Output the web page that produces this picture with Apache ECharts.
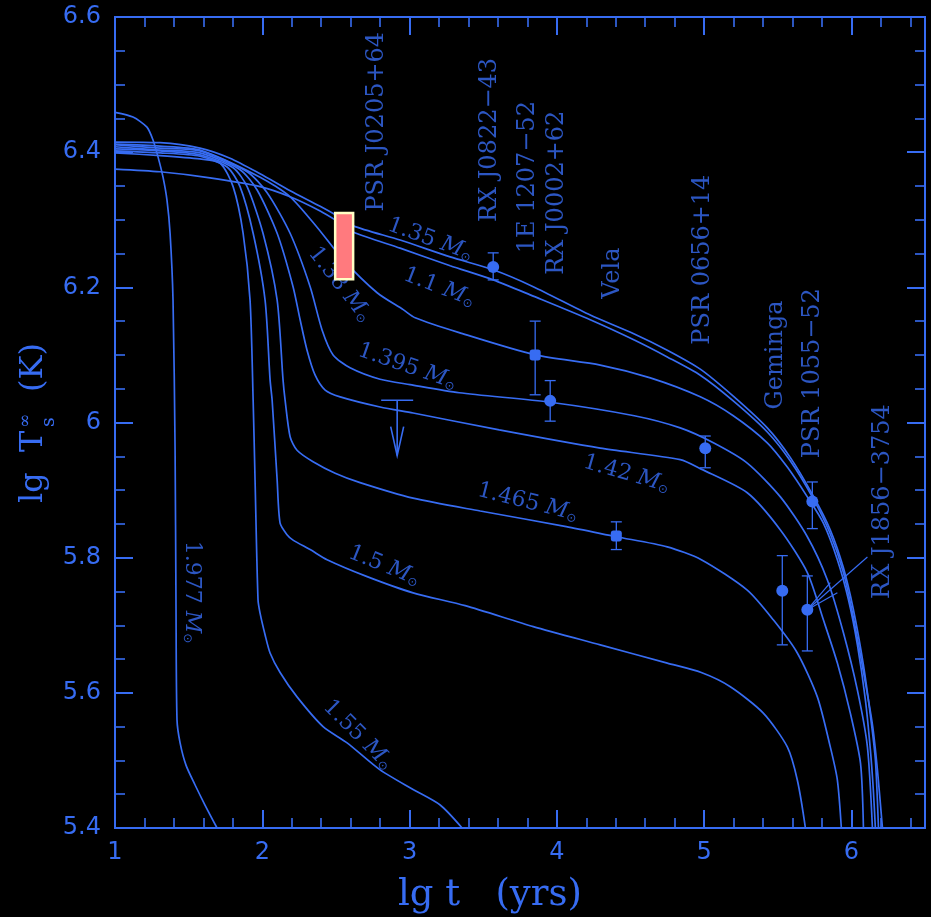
<!DOCTYPE html>
<html><head><meta charset="utf-8">
<script src="https://cdn.jsdelivr.net/npm/echarts@6/dist/echarts.min.js"></script>
<style>html,body{margin:0;padding:0;background:#000;}#c{width:931px;height:917px;}</style>
</head><body><div id="c"></div>
<script>
const BLUE = '#376cf2';

// ---- cooling curves: lg t (yrs) and lg Ts (K) ----
const lgt_1p1  = [1.0,1.306,1.645,1.985,2.189,2.393,2.508,2.617,2.936,3.276,3.568,3.840,4.227,4.526,4.750,4.974,5.198,5.429,5.586,5.742,5.857,5.946,6.014,6.082,6.143,6.177,6.211];
const T_1p1    = [6.375,6.371,6.362,6.349,6.334,6.313,6.298,6.282,6.258,6.232,6.211,6.187,6.152,6.122,6.097,6.070,6.032,5.986,5.943,5.887,5.835,5.778,5.711,5.631,5.553,5.486,5.400];

const lgt_1p35 = [1.0,1.306,1.577,1.781,1.985,2.189,2.393,2.508,2.617,2.936,3.276,3.568,3.840,4.227,4.526,4.750,4.974,5.198,5.429,5.586,5.742,5.857,5.946,6.014,6.082,6.129,6.163,6.184];
const T_1p35   = [6.415,6.414,6.406,6.391,6.368,6.343,6.320,6.306,6.291,6.270,6.245,6.226,6.201,6.159,6.131,6.107,6.079,6.039,5.992,5.948,5.891,5.841,5.785,5.723,5.641,5.567,5.501,5.400];

const lgt_1p38 = [1.0,1.306,1.577,1.985,2.189,2.372,2.549,2.780,2.957,3.038,3.337,3.853,4.295,4.635,4.974,5.198,5.429,5.565,5.701,5.810,5.905,5.980,6.041,6.095,6.129,6.149,6.163];
const T_1p38   = [6.412,6.409,6.403,6.363,6.334,6.289,6.241,6.192,6.167,6.155,6.133,6.100,6.085,6.066,6.038,6.010,5.970,5.934,5.890,5.851,5.797,5.738,5.671,5.590,5.516,5.457,5.400];

const lgt_1p395 = [1.0,1.306,1.577,1.897,2.033,2.189,2.325,2.406,2.481,2.596,2.800,3.004,3.337,3.955,4.526,4.838,5.063,5.293,5.518,5.701,5.837,5.946,6.041,6.109,6.143];
const T_1p395   = [6.411,6.406,6.402,6.371,6.340,6.280,6.201,6.137,6.100,6.081,6.064,6.056,6.044,6.030,6.010,5.992,5.970,5.940,5.890,5.831,5.767,5.689,5.604,5.520,5.400];

const lgt_1p42 = [1.0,1.306,1.577,1.849,1.965,2.101,2.209,2.257,2.304,2.359,2.427,2.529,2.800,3.024,3.609,4.295,4.838,4.981,5.293,5.518,5.701,5.810,5.905,5.993,6.062,6.082];
const T_1p42   = [6.408,6.403,6.399,6.374,6.344,6.280,6.201,6.152,6.107,6.070,6.048,6.038,6.023,6.014,5.989,5.962,5.945,5.931,5.896,5.841,5.778,5.708,5.644,5.570,5.496,5.400];

const lgt_1p465 = [1.0,1.306,1.577,1.802,1.897,2.005,2.101,2.141,2.155,2.189,2.236,2.345,2.495,2.664,3.024,3.480,4.064,4.404,4.750,4.981,5.293,5.470,5.633,5.769,5.857,5.905,5.932];
const T_1p465   = [6.405,6.402,6.396,6.377,6.349,6.280,6.181,6.063,6.033,5.979,5.959,5.942,5.925,5.911,5.888,5.869,5.846,5.831,5.816,5.797,5.752,5.708,5.659,5.594,5.520,5.471,5.400];

const lgt_1p5 = [1.0,1.306,1.577,1.761,1.849,1.938,2.019,2.053,2.067,2.101,2.121,2.168,2.209,2.325,2.440,2.712,3.024,3.378,3.840,4.295,4.750,4.981,5.178,5.402,5.565,5.633,5.688];
const T_1p5   = [6.402,6.399,6.394,6.378,6.349,6.280,6.181,6.063,6.033,5.915,5.851,5.834,5.826,5.812,5.797,5.772,5.748,5.729,5.698,5.671,5.644,5.630,5.609,5.570,5.520,5.471,5.400];

const lgt_1p55 = [1.0,1.306,1.577,1.713,1.802,1.870,1.917,1.938,1.951,1.971,1.985,2.019,2.053,2.121,2.236,2.413,2.576,2.800,3.024,3.208,3.357];
const T_1p55   = [6.399,6.395,6.390,6.384,6.349,6.280,6.181,6.033,5.915,5.738,5.718,5.686,5.659,5.630,5.594,5.550,5.526,5.486,5.457,5.434,5.400];

const lgt_1p977 = [1.0,1.122,1.217,1.258,1.292,1.326,1.353,1.374,1.394,1.408,1.414,1.421,1.442,1.482,1.543,1.611,1.693];
const T_1p977   = [6.459,6.452,6.437,6.418,6.393,6.363,6.329,6.280,6.181,5.959,5.738,5.560,5.526,5.493,5.464,5.434,5.400];

// ---- curve labels (mass, anchor lg t, anchor lg T, angle) ----
const massText  = ['1.35','1.1','1.38','1.395','1.42','1.465','1.5','1.55','1.977'];
const massX     = [3.147,3.208,2.542,2.990,4.478,3.806,2.834,2.664,1.543];
const massY     = [6.275,6.204,6.207,6.087,5.928,5.886,5.792,5.541,5.749];
const massAngle = [-20,-21,-52,-19,-16,-14,-22,-45,-90];

// ---- observed sources: labels ----
const srcText = ['PSR J0205+64','RX J0822\u221243','1E 1207\u221252','RX J0002+62','Vela','PSR 0656+14','Geminga','PSR 1055\u221252','RX J1856\u22123754'];
const srcX    = [2.780,3.548,3.806,4.003,4.383,4.988,5.490,5.735,6.211];
const srcY    = [6.445,6.418,6.363,6.340,6.221,6.241,6.100,6.073,5.883];

// ---- observed sources: data points with error bars ----
const ptX     = [3.568,3.853,3.955,5.008,4.404,5.531,5.735,5.701];
const ptY     = [6.230,6.100,6.032,5.962,5.832,5.751,5.883,5.723];
const ptLo    = [6.211,6.041,6.002,5.933,5.812,5.671,5.843,5.662];
const ptHi    = [6.251,6.150,6.062,5.980,5.853,5.803,5.912,5.773];
const ptShape = ['circle','roundRect','circle','circle','roundRect','circle','circle','circle'];

// ---- Vela upper limit (lg t, bar value, arrow tip) ----
const limX = [2.916], limTop = [6.033], limTip = [5.951];

// ---- PSR J0205+64 box (lg t from, lg t to, lg T from, lg T to) ----
const boxT0 = [2.495], boxT1 = [2.617], boxY0 = [6.212], boxY1 = [6.310];

// ---- RX J1856-3754 pointer lines (end points) ----
const ptrX = [6.109,5.857,5.905];
const ptrY = [5.801,5.763,5.748];

const xTicksMajor = [1,2,3,4,5,6];
const yTicks = [5.4,5.6,5.8,6.0,6.2,6.4,6.6];

function zip(a,b){ return a.map((v,i)=>[v,b[i]]); }

const curves = [
  ['1.1', lgt_1p1, T_1p1], ['1.35', lgt_1p35, T_1p35], ['1.38', lgt_1p38, T_1p38],
  ['1.395', lgt_1p395, T_1p395], ['1.42', lgt_1p42, T_1p42], ['1.465', lgt_1p465, T_1p465],
  ['1.5', lgt_1p5, T_1p5], ['1.55', lgt_1p55, T_1p55], ['1.977', lgt_1p977, T_1p977]
];

const lineStyleAx = {color: BLUE, width: 2};
function xAx(pos, major, showLabel){
  return {
    type:'value', position:pos, min:1, max:6.5, interval: major ? 1 : 0.2,
    axisLine:{show:true, onZero:false, lineStyle:lineStyleAx},
    axisTick:{show:true, inside:true, length: major ? 18 : 10, lineStyle:{color:BLUE, width: major?2:1.6}},
    axisLabel:{show:showLabel, showMaxLabel:false, margin:13, color:BLUE,
      fontFamily:'DejaVu Sans', fontSize:24,
      formatter: v => xTicksMajor.indexOf(Math.round(v*10)/10) >= 0 ? String(Math.round(v)) : ''},
    splitLine:{show:false}
  };
}
function yAx(pos, showLabel){
  return {
    type:'value', position:pos, min:5.4, max:6.6, interval:0.2,
    axisLine:{show:true, onZero:false, lineStyle:lineStyleAx},
    axisTick:{show:true, inside:true, length:18, lineStyle:{color:BLUE, width:2}},
    minorTick:{show:true, splitNumber:4, length:10, lineStyle:{color:BLUE, width:1.6}},
    axisLabel:{show:showLabel, margin:14, color:BLUE, fontFamily:'DejaVu Sans', fontSize:24,
      formatter: v => String(Math.round(v*10)/10)},
    splitLine:{show:false}, minorSplitLine:{show:false}
  };
}

const series = [];
curves.forEach(c => {
  series.push({
    name: c[0] + ' M\u2299', type:'line', xAxisIndex:0, yAxisIndex:0,
    data: zip(c[1], c[2]), showSymbol:false, symbol:'none', smooth:0.25,
    lineStyle:{color:BLUE, width:1.7}, silent:true, z:2
  });
});

// pointer lines for RX J1856
series.push({
  type:'custom', xAxisIndex:0, yAxisIndex:0, silent:true, z:3,
  data: ptrX.map((x,i)=>[ptX[7], ptY[7], x, ptrY[i]]),
  renderItem(params, api){
    const a = api.coord([api.value(0), api.value(1)]);
    const b = api.coord([api.value(2), api.value(3)]);
    return {type:'line', shape:{x1:a[0],y1:a[1],x2:b[0],y2:b[1]}, style:{stroke:BLUE, lineWidth:1.2}};
  }
});

// error bars
series.push({
  type:'custom', xAxisIndex:0, yAxisIndex:0, silent:true, z:3,
  data: ptX.map((x,i)=>[x, ptLo[i], ptHi[i]]),
  renderItem(params, api){
    const top = api.coord([api.value(0), api.value(2)]);
    const bot = api.coord([api.value(0), api.value(1)]);
    const w = 5.5, st = {stroke:BLUE, lineWidth:1.3};
    return {type:'group', children:[
      {type:'line', shape:{x1:top[0],y1:top[1],x2:bot[0],y2:bot[1]}, style:st},
      {type:'line', shape:{x1:top[0]-w,y1:top[1],x2:top[0]+w,y2:top[1]}, style:st},
      {type:'line', shape:{x1:bot[0]-w,y1:bot[1],x2:bot[0]+w,y2:bot[1]}, style:st}
    ]};
  }
});

// data points
series.push({
  type:'scatter', xAxisIndex:0, yAxisIndex:0, silent:true, z:4,
  data: ptX.map((x,i)=>({value:[x, ptY[i]], symbol:ptShape[i], symbolSize: ptShape[i]==='circle'?12:11})),
  itemStyle:{color:BLUE, opacity:1}
});

// upper limit arrow
series.push({
  type:'custom', xAxisIndex:0, yAxisIndex:0, silent:true, z:3,
  data: limX.map((x,i)=>[x, limTop[i], limTip[i]]),
  renderItem(params, api){
    const t = api.coord([api.value(0), api.value(1)]);
    const b = api.coord([api.value(0), api.value(2)]);
    const st = {stroke:BLUE, lineWidth:1.6, fill:null};
    return {type:'group', children:[
      {type:'line', shape:{x1:t[0]-16,y1:t[1],x2:t[0]+16,y2:t[1]}, style:st},
      {type:'line', shape:{x1:t[0],y1:t[1],x2:b[0],y2:b[1]}, style:st},
      {type:'polyline', shape:{points:[[b[0]-6.5,b[1]-29],[b[0],b[1]],[b[0]+6.5,b[1]-29]]}, style:st}
    ]};
  }
});

// mass labels
series.push({
  type:'scatter', xAxisIndex:0, yAxisIndex:0, silent:true, z:5, symbolSize:0,
  data: massX.map((x,i)=>({value:[x, massY[i]], label:{rotate:massAngle[i]}})),
  label:{show:true, position:'inside', align:'center', verticalAlign:'middle', color:BLUE,
    formatter: p => '{n|' + massText[p.dataIndex] + ' }{m|M}{s|\u2299}',
    rich:{
      n:{fontFamily:'DejaVu Serif', fontSize:22, color:BLUE, lineHeight:28, verticalAlign:'bottom'},
      m:{fontFamily:'DejaVu Serif', fontStyle:'italic', fontSize:22, color:BLUE, lineHeight:28, verticalAlign:'bottom'},
      s:{fontFamily:'DejaVu Sans', fontSize:12, color:BLUE, lineHeight:28, verticalAlign:'bottom'}
    }}
});

// source labels
series.push({
  type:'scatter', xAxisIndex:0, yAxisIndex:0, silent:true, z:5, symbolSize:0,
  data: srcX.map((x,i)=>[x, srcY[i]]),
  label:{show:true, position:'inside', align:'center', verticalAlign:'middle', rotate:90,
    color:BLUE, fontFamily:'DejaVu Serif', fontSize:24,
    formatter: p => srcText[p.dataIndex]}
});

// PSR J0205+64 box
series.push({
  type:'custom', xAxisIndex:0, yAxisIndex:0, silent:true, z:10,
  data: boxT0.map((x,i)=>[x, boxT1[i], boxY0[i], boxY1[i]]),
  renderItem(params, api){
    const a = api.coord([api.value(0), api.value(3)]);
    const b = api.coord([api.value(1), api.value(2)]);
    return {type:'rect', shape:{x:a[0], y:a[1], width:b[0]-a[0], height:b[1]-a[1]},
      style:{fill:'#ff7a7e', stroke:'#ffffc4', lineWidth:2.5}};
  }
});

const option = {
  backgroundColor:'#000',
  animation:false,
  grid:{left:115, right:6, top:17, bottom:89, containLabel:false},
  xAxis:[ xAx('bottom', true, true), xAx('bottom', false, false), xAx('top', true, false), xAx('top', false, false) ],
  yAxis:[ yAx('left', true), yAx('right', false) ],
  series: series,
  graphic:[
    {type:'text', x:398, y:914, silent:true,
      style:{text:'lg t   (yrs)', font:'37px "DejaVu Serif"', fill:BLUE, textAlign:'left', textVerticalAlign:'bottom', verticalAlign:'bottom'}},
    {type:'group', x:34, y:503, rotation:Math.PI/2, silent:true, children:[
      {type:'text', x:0, y:0, style:{text:'lg', font:'32px "DejaVu Serif"', fill:BLUE, textAlign:'left', textVerticalAlign:'middle', verticalAlign:'middle'}},
      {type:'text', x:51, y:0, style:{text:'T', font:'32px "DejaVu Serif"', fill:BLUE, textAlign:'left', textVerticalAlign:'middle', verticalAlign:'middle'}},
      {type:'text', x:75, y:-8, style:{text:'\u221E', font:'17px "DejaVu Serif"', fill:BLUE, textAlign:'left', textVerticalAlign:'middle', verticalAlign:'middle'}},
      {type:'text', x:76, y:15, style:{text:'s', font:'19px "DejaVu Serif"', fill:BLUE, textAlign:'left', textVerticalAlign:'middle', verticalAlign:'middle'}},
      {type:'text', x:111, y:0, style:{text:'(K)', font:'32px "DejaVu Serif"', fill:BLUE, textAlign:'left', textVerticalAlign:'middle', verticalAlign:'middle'}}
    ]}
  ]
};
const chart = echarts.init(document.getElementById('c'));
chart.setOption(option);
</script></body></html>
